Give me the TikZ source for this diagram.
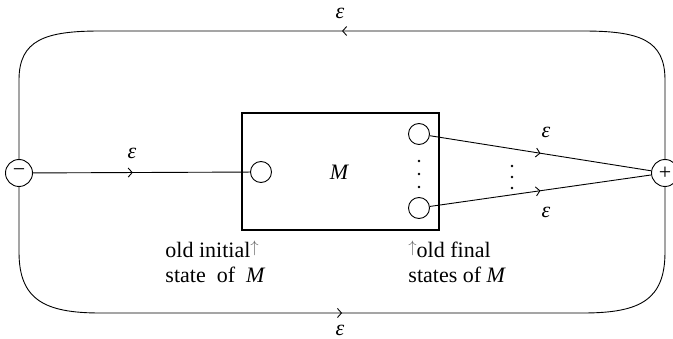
\documentclass[tikz,border=0pt]{standalone}
\usepackage{fontspec}
\setmainfont{Liberation Serif}
\usetikzlibrary{arrows.meta,decorations.markings}
\newcommand{\eps}{\textit{ε}}
\newcommand{\upmark}{\textcolor{gray!80!black}{\raisebox{0.55ex}{\scalebox{0.8}{$\uparrow$}}}}
\begin{document}
\begin{tikzpicture}[x=1pt,y=-1pt,
  line width=0.9pt,
  lab/.style={font=\fontsize{22}{26}\selectfont, inner sep=0pt},
  st/.style={circle,draw,minimum size=21pt,inner sep=0pt,line width=0.9pt},
  pm/.style={circle,draw,minimum size=27pt,inner sep=0pt,line width=0.9pt,font=\fontsize{22}{26}\selectfont},
  dotmark/.style={circle,fill,inner sep=0pt,minimum size=2.6pt},
  midarrow/.style={postaction={decorate},decoration={markings,mark=at position #1 with {\arrow{Straight Barb[length=4pt,width=9pt,line width=0.9pt]}}}},
]
\useasboundingbox (0,0) rectangle (673,339);
% terminal nodes
\node[pm] (minus) at (19,173) {−};
\node[pm] (plus) at (665,173) {+};
% machine box
\node[draw, line width=2.4pt, minimum width=197pt, minimum height=117pt, inner sep=0pt] (box) at (340.5,171.5) {};
\node[st] (init) at (261,172) {};
\node[lab] (M) at (339,172) {\itshape M};
\node[st] (f1) at (419,134) {};
\node[st] (f2) at (419,208) {};
\foreach \yy [count=\i] in {161,174,187} {\node[dotmark] (da\i) at (419,\yy) {};}
\foreach \yy [count=\i] in {166,177,188} {\node[dotmark] (db\i) at (512,\yy) {};}
% edges
\draw[midarrow=0.46] (minus) -- (init);
\draw[midarrow=0.5] (f1) -- (plus);
\draw[midarrow=0.5] (f2) -- (plus);
\draw[midarrow=0.5] (plus.north) -- (665,80) .. controls (665,40) and (640,31) .. (583,31) -- (100,31) .. controls (45,31) and (19,40) .. (19,80) -- (minus.north);
\draw[midarrow=0.5] (minus.south) -- (19,252) .. controls (19,300) and (45,313) .. (100,313) -- (583,313) .. controls (640,313) and (665,300) .. (665,252) -- (plus.south);
% epsilon labels
\node[lab] (e0) at (132,153) {\eps};
\node[lab] (e1) at (546,132) {\eps};
\node[lab] (e2) at (546,212) {\eps};
\node[lab] (etop) at (340,13) {\eps};
\node[lab] (ebot) at (340,330) {\eps};
% annotations
\node[lab, anchor=base west] (l1a) at (165,258) {old initial\upmark};
\node[lab, anchor=base west] (l1b) at (165,283) {state\ \ of\ \ \textit{M}};
\node[lab, anchor=base west] (l2a) at (408,258) {\upmark old final};
\node[lab, anchor=base west] (l2b) at (408,283) {states of \textit{M}};
\end{tikzpicture}
\end{document}
